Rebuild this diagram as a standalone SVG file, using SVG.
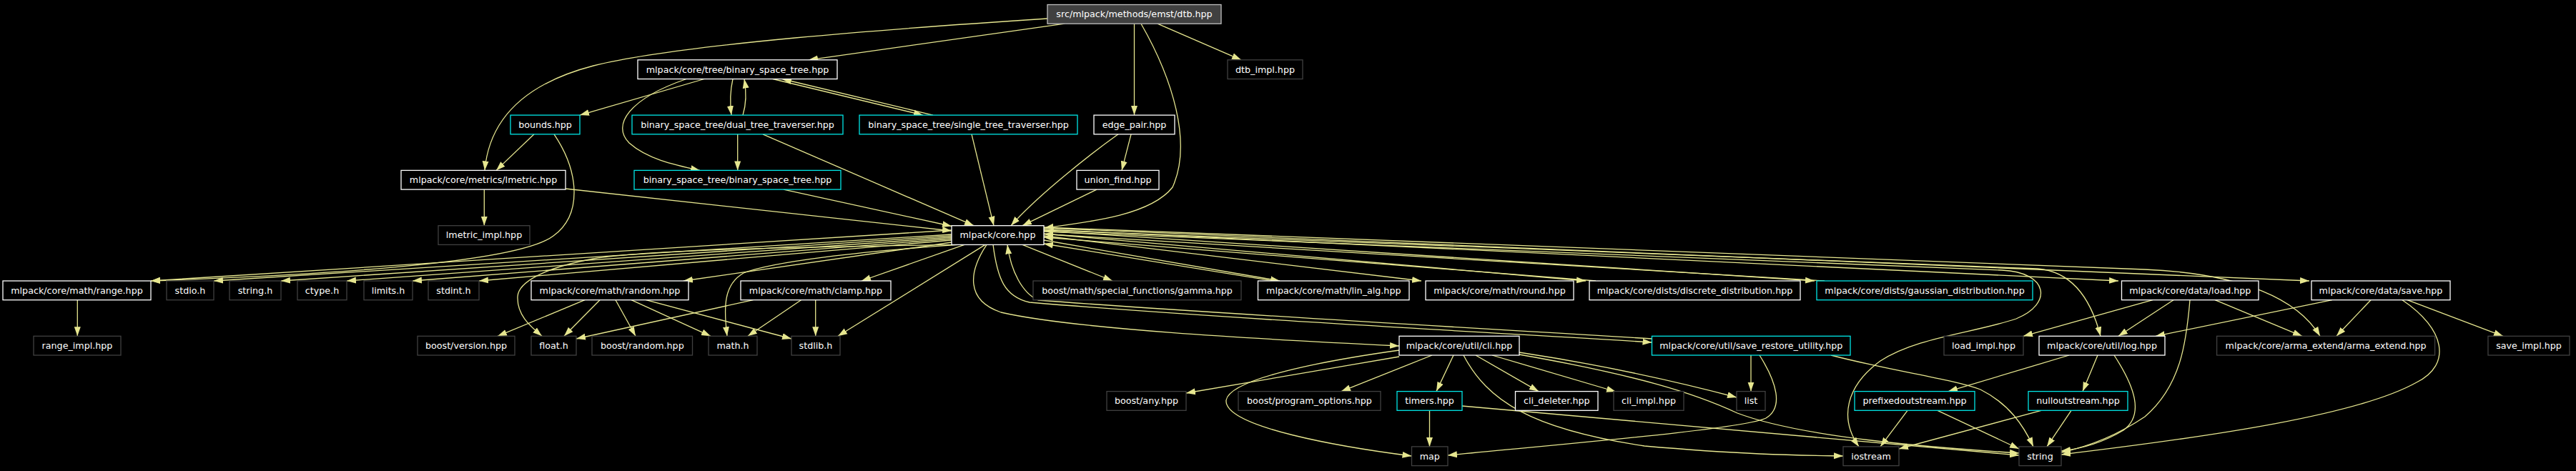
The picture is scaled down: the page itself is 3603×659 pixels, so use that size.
<svg xmlns="http://www.w3.org/2000/svg" width="3603" height="659" viewBox="0 0 3603 659">
<defs>
<style>
.n rect{fill:#000;stroke-width:1.3}
.doc rect{stroke:#ffffff}
.und rect{stroke:#404040}
.tr rect{stroke:#00e5e5}
.main rect{fill:#404040;stroke:#bfbfbf}
text{font-family:"DejaVu Sans",sans-serif;font-size:12.7px;fill:#fff;text-anchor:middle}
#edges path{fill:none;stroke:#e6e68f;stroke-width:1.3;marker-end:url(#a)}
</style>
<marker id="a" markerUnits="userSpaceOnUse" markerWidth="14" markerHeight="10" refX="13" refY="5" orient="auto" viewBox="0 0 14 10"><path d="M0,0.5 L13,5 L0,9.5 z" fill="#e6e68f"/></marker>
</defs>
<rect x="0" y="0" width="3603" height="659" fill="#000"/>
<g id="edges">
<path d="M1489,33.2 L1131,83.8"/>
<path d="M1465,26 C1250,40 950,62 830,92 C730,118 684,170 678,238.4"/>
<path d="M1586.5,33.2 L1586.5,161.1"/>
<path d="M1596,33.2 C1640,110 1668,200 1640,262 C1610,300 1530,310 1460.5,319"/>
<path d="M1619,33.2 L1736,83.8"/>
<path d="M985,110.5 L811,161.1"/>
<path d="M1025,110.5 C1021,128 1021,145 1023,161.1"/>
<path d="M1039,161.1 C1044,145 1044,128 1041,110.5"/>
<path d="M1081,110.5 L1291,161.1"/>
<path d="M1305,161.1 L1094,110.5"/>
<path d="M960,110.5 C880,138 855,175 880,200 C905,222 940,230 979,238.4"/>
<path d="M1031.7,187.8 L1031.7,238.4"/>
<path d="M1067,187.8 L1362,315.7"/>
<path d="M1359,187.8 L1390,315.7"/>
<path d="M1564,187.8 C1530,212 1455,270 1414,315.7"/>
<path d="M1582,187.8 L1569,238.4"/>
<path d="M1534,265.1 L1430,315.7"/>
<path d="M747,187.8 L694,238.4"/>
<path d="M775,187.8 C810,240 815,300 774,330 C720,372 400,386 211,393"/>
<path d="M677.3,265.1 L677.3,315.7"/>
<path d="M791,264 L1331,323"/>
<path d="M1096,265.1 L1331,316.5"/>
<path d="M108.3,419.7 L108.3,470.3"/>
<path d="M1331,322 L211,393"/>
<path d="M1331,328 L299,393"/>
<path d="M1331,330 L393,393"/>
<path d="M1331,332 L485,393"/>
<path d="M1331,334 L577,393"/>
<path d="M1331,336 L670,393"/>
<path d="M1331,339 L956,393"/>
<path d="M1335,342.4 C1100,346 900,350 830,362 C760,375 725,395 724,415 C723,440 740,455 758,470.3"/>
<path d="M1341,342.4 C1200,352 1080,366 1040,382 C1012,398 1012,430 1017,470.3"/>
<path d="M1349,342.4 L1205,393"/>
<path d="M1378,342.4 L1172,470.3"/>
<path d="M818,419.7 L696,470.3"/>
<path d="M839,419.7 L789,470.3"/>
<path d="M861,419.7 L889,470.3"/>
<path d="M883,419.7 L994,470.3"/>
<path d="M903.5,419.7 L1107,474"/>
<path d="M1053.5,419.7 L806,474"/>
<path d="M1120.5,419.7 L1046,470.3"/>
<path d="M1140.7,419.7 L1140.7,470.3"/>
<path d="M1430,342.4 L1556,393"/>
<path d="M1460,336 L1790,393"/>
<path d="M1781,393 L1460,341"/>
<path d="M1460,330 L1988,393"/>
<path d="M1460,327 L2218,393"/>
<path d="M2232,393 L1460,332"/>
<path d="M1460,323 L2538,393"/>
<path d="M2552,393 L1460,327.5"/>
<path d="M1460,321 L2963,393"/>
<path d="M1460,319 L3230,393"/>
<path d="M1460,322 L2850,376 C2900,380 2925,420 2938,470.3"/>
<path d="M1460,318 L3000,377 C3140,383 3215,420 3245,470.3"/>
<path d="M1460,324 L2800,378 C2865,381 2872,425 2820,446 C2760,466 2680,472 2630,505 C2582,540 2572,585 2600,624.9"/>
<path d="M1380,342.4 C1355,380 1350,420 1400,437 C1500,460 1750,474 1957,484"/>
<path d="M1389,342.4 C1395,390 1405,415 1440,423 C1700,445 2100,466 2310.5,479"/>
<path d="M2310.5,474 C2100,461 1700,439 1452,420 C1430,410 1414,380 1409,342.4"/>
<path d="M3011,419.7 L2830,470.3"/>
<path d="M3040,419.7 L2963,470.3"/>
<path d="M3098,419.7 L3220,470.3"/>
<path d="M3063,419.7 C3058,480 3050,540 3000,583 C2960,610 2920,625 2883,633"/>
<path d="M3262,419.7 L3015,470.3"/>
<path d="M3316,419.7 L3268,470.3"/>
<path d="M3367,419.7 L3501,470.3"/>
<path d="M3360,419.7 C3420,460 3430,510 3380,535 C3300,580 3100,610 2883,636"/>
<path d="M2894,497 L2725,547.6"/>
<path d="M2934,497 L2913,547.6"/>
<path d="M2957,497 C2985,540 3000,580 2970,602 C2940,620 2910,628 2883,631"/>
<path d="M2668,574.3 L2630,624.9"/>
<path d="M2710,574.3 L2824,628"/>
<path d="M2855,574.3 L2656,628"/>
<path d="M2897,574.3 L2863,624.9"/>
<path d="M2449,497 L2449,547.6"/>
<path d="M2561,497 C2650,520 2730,530 2770,545 C2810,565 2830,595 2844,624.9"/>
<path d="M2461,497 C2485,535 2495,570 2470,585 C2440,600 2200,620 2025,637"/>
<path d="M1957,499 L1659,550"/>
<path d="M2003,497 L1876,547.6"/>
<path d="M2033,497 L2009,547.6"/>
<path d="M2064,497 L2152,547.6"/>
<path d="M2087,497 L2260,548"/>
<path d="M1957,490 C1850,505 1720,530 1715,560 C1712,598 1880,626 1974.5,638"/>
<path d="M2125,493 C2250,512 2350,535 2429,556"/>
<path d="M2125,496 C2290,525 2370,550 2430,578 C2520,612 2700,626 2824,634"/>
<path d="M2047,497 C2080,560 2140,600 2300,624 C2450,637 2520,637 2578,638"/>
<path d="M1999.5,574.3 L1999.5,624.9"/>
<path d="M2045,568 L2824,637"/>
</g>
<g id="n_dtb" class="n main"><rect x="1465" y="6.5" width="243" height="26.7"/><text x="1586.5" y="24.2">src/mlpack/methods/emst/dtb.hpp</text></g>
<g id="n_bst" class="n doc"><rect x="892" y="83.8" width="279" height="26.7"/><text x="1031.5" y="101.5">mlpack/core/tree/binary_space_tree.hpp</text></g>
<g id="n_dtbimpl" class="n und"><rect x="1717" y="83.8" width="105" height="26.7"/><text x="1769.5" y="101.5">dtb_impl.hpp</text></g>
<g id="n_bounds" class="n tr"><rect x="714" y="161.1" width="97" height="26.7"/><text x="762.5" y="178.8">bounds.hpp</text></g>
<g id="n_dtt" class="n tr"><rect x="884" y="161.1" width="295" height="26.7"/><text x="1031.5" y="178.8">binary_space_tree/dual_tree_traverser.hpp</text></g>
<g id="n_stt" class="n tr"><rect x="1202" y="161.1" width="305" height="26.7"/><text x="1354.5" y="178.8">binary_space_tree/single_tree_traverser.hpp</text></g>
<g id="n_edgepair" class="n doc"><rect x="1530" y="161.1" width="113" height="26.7"/><text x="1586.5" y="178.8">edge_pair.hpp</text></g>
<g id="n_lmetric" class="n doc"><rect x="561" y="238.4" width="230" height="26.7"/><text x="676" y="256.1">mlpack/core/metrics/lmetric.hpp</text></g>
<g id="n_bstbst" class="n tr"><rect x="887" y="238.4" width="289" height="26.7"/><text x="1031.5" y="256.1">binary_space_tree/binary_space_tree.hpp</text></g>
<g id="n_unionfind" class="n doc"><rect x="1506" y="238.4" width="115" height="26.7"/><text x="1563.5" y="256.1">union_find.hpp</text></g>
<g id="n_lmetricimpl" class="n und"><rect x="613" y="315.7" width="128" height="26.7"/><text x="677" y="333.4">lmetric_impl.hpp</text></g>
<g id="n_core" class="n doc"><rect x="1331" y="315.7" width="129" height="26.7"/><text x="1395.5" y="333.4">mlpack/core.hpp</text></g>
<g id="n_range" class="n doc"><rect x="4" y="393" width="207" height="26.7"/><text x="107.5" y="410.7">mlpack/core/math/range.hpp</text></g>
<g id="n_stdio" class="n und"><rect x="233" y="393" width="66" height="26.7"/><text x="266" y="410.7">stdio.h</text></g>
<g id="n_stringh" class="n und"><rect x="321" y="393" width="72" height="26.7"/><text x="357" y="410.7">string.h</text></g>
<g id="n_ctype" class="n und"><rect x="416" y="393" width="69" height="26.7"/><text x="450.5" y="410.7">ctype.h</text></g>
<g id="n_limits" class="n und"><rect x="509" y="393" width="68" height="26.7"/><text x="543" y="410.7">limits.h</text></g>
<g id="n_stdint" class="n und"><rect x="599" y="393" width="71" height="26.7"/><text x="634.5" y="410.7">stdint.h</text></g>
<g id="n_random" class="n doc"><rect x="743" y="393" width="220" height="26.7"/><text x="853" y="410.7">mlpack/core/math/random.hpp</text></g>
<g id="n_clamp" class="n doc"><rect x="1036" y="393" width="210" height="26.7"/><text x="1141" y="410.7">mlpack/core/math/clamp.hpp</text></g>
<g id="n_gamma" class="n und"><rect x="1445" y="393" width="291" height="26.7"/><text x="1590.5" y="410.7">boost/math/special_functions/gamma.hpp</text></g>
<g id="n_linalg" class="n doc"><rect x="1759.5" y="393" width="211.5" height="26.7"/><text x="1865.3" y="410.7">mlpack/core/math/lin_alg.hpp</text></g>
<g id="n_round" class="n doc"><rect x="1994" y="393" width="207" height="26.7"/><text x="2097.5" y="410.7">mlpack/core/math/round.hpp</text></g>
<g id="n_discrete" class="n doc"><rect x="2223" y="393" width="295" height="26.7"/><text x="2370.5" y="410.7">mlpack/core/dists/discrete_distribution.hpp</text></g>
<g id="n_gaussian" class="n tr"><rect x="2541" y="393" width="302" height="26.7"/><text x="2692" y="410.7">mlpack/core/dists/gaussian_distribution.hpp</text></g>
<g id="n_load" class="n doc"><rect x="2967.5" y="393" width="191.5" height="26.7"/><text x="3063.3" y="410.7">mlpack/core/data/load.hpp</text></g>
<g id="n_save" class="n doc"><rect x="3233" y="393" width="194" height="26.7"/><text x="3330" y="410.7">mlpack/core/data/save.hpp</text></g>
<g id="n_rangeimpl" class="n und"><rect x="47" y="470.3" width="122" height="26.7"/><text x="108" y="488">range_impl.hpp</text></g>
<g id="n_bversion" class="n und"><rect x="584" y="470.3" width="136" height="26.7"/><text x="652" y="488">boost/version.hpp</text></g>
<g id="n_float" class="n und"><rect x="743" y="470.3" width="63" height="26.7"/><text x="774.5" y="488">float.h</text></g>
<g id="n_brandom" class="n und"><rect x="828" y="470.3" width="140.5" height="26.7"/><text x="898.3" y="488">boost/random.hpp</text></g>
<g id="n_math" class="n und"><rect x="991" y="470.3" width="68" height="26.7"/><text x="1025" y="488">math.h</text></g>
<g id="n_stdlib" class="n und"><rect x="1107" y="470.3" width="68" height="26.7"/><text x="1141" y="488">stdlib.h</text></g>
<g id="n_cli" class="n doc"><rect x="1957" y="470.3" width="168" height="26.7"/><text x="2041" y="488">mlpack/core/util/cli.hpp</text></g>
<g id="n_sru" class="n tr"><rect x="2310.5" y="470.3" width="277.5" height="26.7"/><text x="2449.3" y="488">mlpack/core/util/save_restore_utility.hpp</text></g>
<g id="n_loadimpl" class="n und"><rect x="2719" y="470.3" width="111" height="26.7"/><text x="2774.5" y="488">load_impl.hpp</text></g>
<g id="n_log" class="n doc"><rect x="2852" y="470.3" width="176" height="26.7"/><text x="2940" y="488">mlpack/core/util/log.hpp</text></g>
<g id="n_arma" class="n und"><rect x="3100.6" y="470.3" width="305" height="26.7"/><text x="3253.1" y="488">mlpack/core/arma_extend/arma_extend.hpp</text></g>
<g id="n_saveimpl" class="n und"><rect x="3480" y="470.3" width="114" height="26.7"/><text x="3537" y="488">save_impl.hpp</text></g>
<g id="n_bany" class="n und"><rect x="1548" y="547.6" width="111" height="26.7"/><text x="1603.5" y="565.3">boost/any.hpp</text></g>
<g id="n_bpo" class="n und"><rect x="1732" y="547.6" width="199" height="26.7"/><text x="1831.5" y="565.3">boost/program_options.hpp</text></g>
<g id="n_timers" class="n tr"><rect x="1954" y="547.6" width="91" height="26.7"/><text x="1999.5" y="565.3">timers.hpp</text></g>
<g id="n_clideleter" class="n doc"><rect x="2119.5" y="547.6" width="115.5" height="26.7"/><text x="2177.3" y="565.3">cli_deleter.hpp</text></g>
<g id="n_cliimpl" class="n und"><rect x="2257" y="547.6" width="98" height="26.7"/><text x="2306" y="565.3">cli_impl.hpp</text></g>
<g id="n_list" class="n und"><rect x="2429" y="547.6" width="40" height="26.7"/><text x="2449" y="565.3">list</text></g>
<g id="n_prefixed" class="n tr"><rect x="2594" y="547.6" width="168" height="26.7"/><text x="2678" y="565.3">prefixedoutstream.hpp</text></g>
<g id="n_null" class="n tr"><rect x="2837" y="547.6" width="139" height="26.7"/><text x="2906.5" y="565.3">nulloutstream.hpp</text></g>
<g id="n_map" class="n und"><rect x="1974.5" y="624.9" width="50.5" height="26.7"/><text x="1999.8" y="642.6">map</text></g>
<g id="n_iostream" class="n und"><rect x="2578" y="624.9" width="78" height="26.7"/><text x="2617" y="642.6">iostream</text></g>
<g id="n_string" class="n und"><rect x="2824" y="624.9" width="59" height="26.7"/><text x="2853.5" y="642.6">string</text></g>
</svg>
